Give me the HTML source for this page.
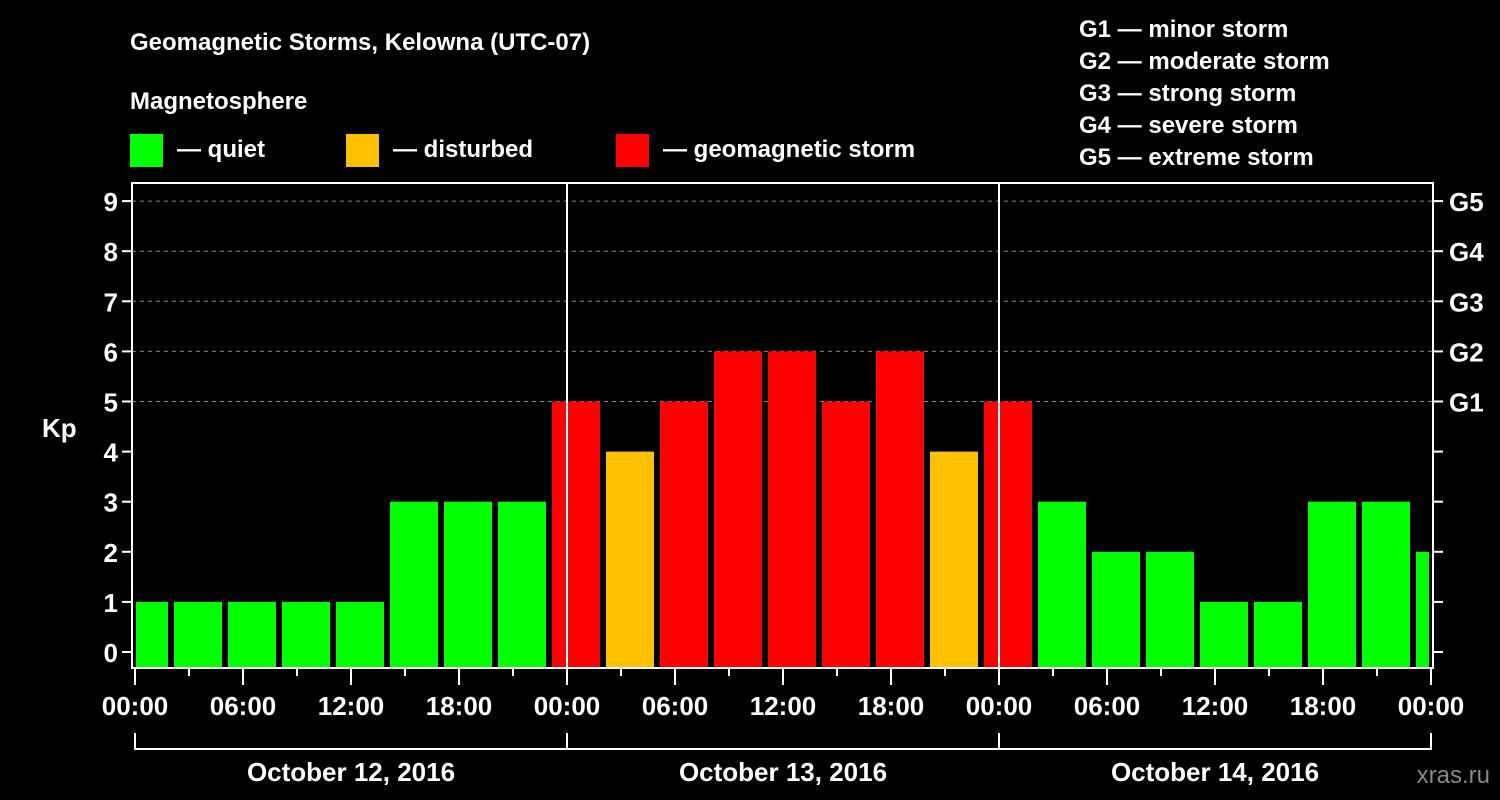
<!DOCTYPE html>
<html><head><meta charset="utf-8"><style>
body{margin:0;background:#000;}
svg{display:block;font-family:"Liberation Sans",sans-serif;font-weight:bold;}
</style></head><body>
<svg id="c" width="1500" height="800" viewBox="0 0 1500 800">
<rect width="1500" height="800" fill="#000"/>
<text x="130" y="50" fill="#fff" font-size="24">Geomagnetic Storms, Kelowna (UTC-07)</text>
<text x="130" y="109" fill="#fff" font-size="24">Magnetosphere</text>
<rect x="130" y="134" width="33" height="33" fill="#00ff00"/>
<text x="177" y="157" fill="#fff" font-size="24">— quiet</text>
<rect x="346" y="134" width="33" height="33" fill="#ffc000"/>
<text x="393" y="157" fill="#fff" font-size="24">— disturbed</text>
<rect x="616" y="134" width="33" height="33" fill="#ff0000"/>
<text x="663" y="157" fill="#fff" font-size="24">— geomagnetic storm</text>
<g fill="#fff" font-size="24">
<text x="1079" y="37">G1 — minor storm</text>
<text x="1079" y="69">G2 — moderate storm</text>
<text x="1079" y="101">G3 — strong storm</text>
<text x="1079" y="133">G4 — severe storm</text>
<text x="1079" y="165">G5 — extreme storm</text>
</g>
<text x="42" y="437" fill="#fff" font-size="26">Kp</text>
<text x="1490" y="783" fill="#888" font-size="24" text-anchor="end" font-weight="normal">xras.ru</text>
<g id="plot"></g>
</svg>
<script>
const kpValues=[1,1,1,1,1,3,3,3,5,4,5,6,6,5,6,4,5,3,2,2,1,1,3,3,2];
const yTicks=[0,1,2,3,4,5,6,7,8,9];
const gLabels=["G1","G2","G3","G4","G5"];
const xTickLabels=["00:00","06:00","12:00","18:00","00:00","06:00","12:00","18:00","00:00","06:00","12:00","18:00","00:00"];
const dayLabels=["October 12, 2016","October 13, 2016","October 14, 2016"];
const firstBarHour=-1; // local hour at which first 3h interval starts

const X0=135,PX_H=18,Y0=652,PX_K=50.1,L=132,R=1433,T=183,B=668;
const xs=h=>X0+h*PX_H, ys=k=>Y0-k*PX_K;
const NS="http://www.w3.org/2000/svg";
const g=document.getElementById('plot');
function mk(t,a){const e=document.createElementNS(NS,t);for(const k in a)e.setAttribute(k,a[k]);g.appendChild(e);return e;}
function col(v){return v>=5?"#ff0000":v>=4?"#ffc000":"#00ff00";}
// grid
gLabels.forEach((lab,i)=>{const y=ys(5+i);
 const gl=mk('line',{x1:L,x2:R,y1:y,y2:y,stroke:"#888","stroke-dasharray":"4,4","stroke-width":1});
 
 
 const t=mk('text',{x:1449,y:y+10,fill:"#fff","font-size":26});t.textContent=lab;
 
 
});
// bars
kpValues.forEach((v,i)=>{const h0=firstBarHour+3*i;
 let x1=xs(h0)+3,x2=xs(h0+3)-3;x1=Math.max(x1,L+4);x2=Math.min(x2,R-4);
 const b=mk('rect',{x:x1,y:ys(v),width:x2-x1,height:B-ys(v),fill:col(v)});
 
 
});
// day separators
[1,2].forEach(d=>{const s=mk('line',{x1:xs(24*d),x2:xs(24*d),y1:T,y2:B,stroke:"#fff","stroke-width":2});
 
 });
// frame
const f=mk('rect',{x:L,y:T,width:R-L,height:B-T,fill:"none",stroke:"#fff","stroke-width":2});


// y ticks
yTicks.forEach(k=>{const y=ys(k);
 mk('line',{x1:L-10,x2:L,y1:y,y2:y,stroke:"#fff","stroke-width":2});
 mk('line',{x1:R,x2:R+10,y1:y,y2:y,stroke:"#fff","stroke-width":2});
 const t=mk('text',{x:L-14,y:y+10,fill:"#fff","font-size":26,"text-anchor":"end"});t.textContent=k;
 
 
});
// x ticks
for(let h=0;h<=72;h+=3){const major=h%6===0;
 mk('line',{x1:xs(h),x2:xs(h),y1:B,y2:B+(major?17:8),stroke:"#fff","stroke-width":2});}
xTickLabels.forEach((lab,i)=>{const t=mk('text',{x:xs(6*i),y:715,fill:"#fff","font-size":26,"text-anchor":"middle"});t.textContent=lab;
 
 });
// day brackets
dayLabels.forEach((lab,i)=>{const a=xs(24*i),b=xs(24*(i+1));
 mk('polyline',{points:`${a},733 ${a},749 ${b},749 ${b},733`,fill:"none",stroke:"#fff","stroke-width":2});
 const t=mk('text',{x:(a+b)/2,y:781,fill:"#fff","font-size":26,"text-anchor":"middle"});t.textContent=lab;
 
 });
</script>
</body></html>
